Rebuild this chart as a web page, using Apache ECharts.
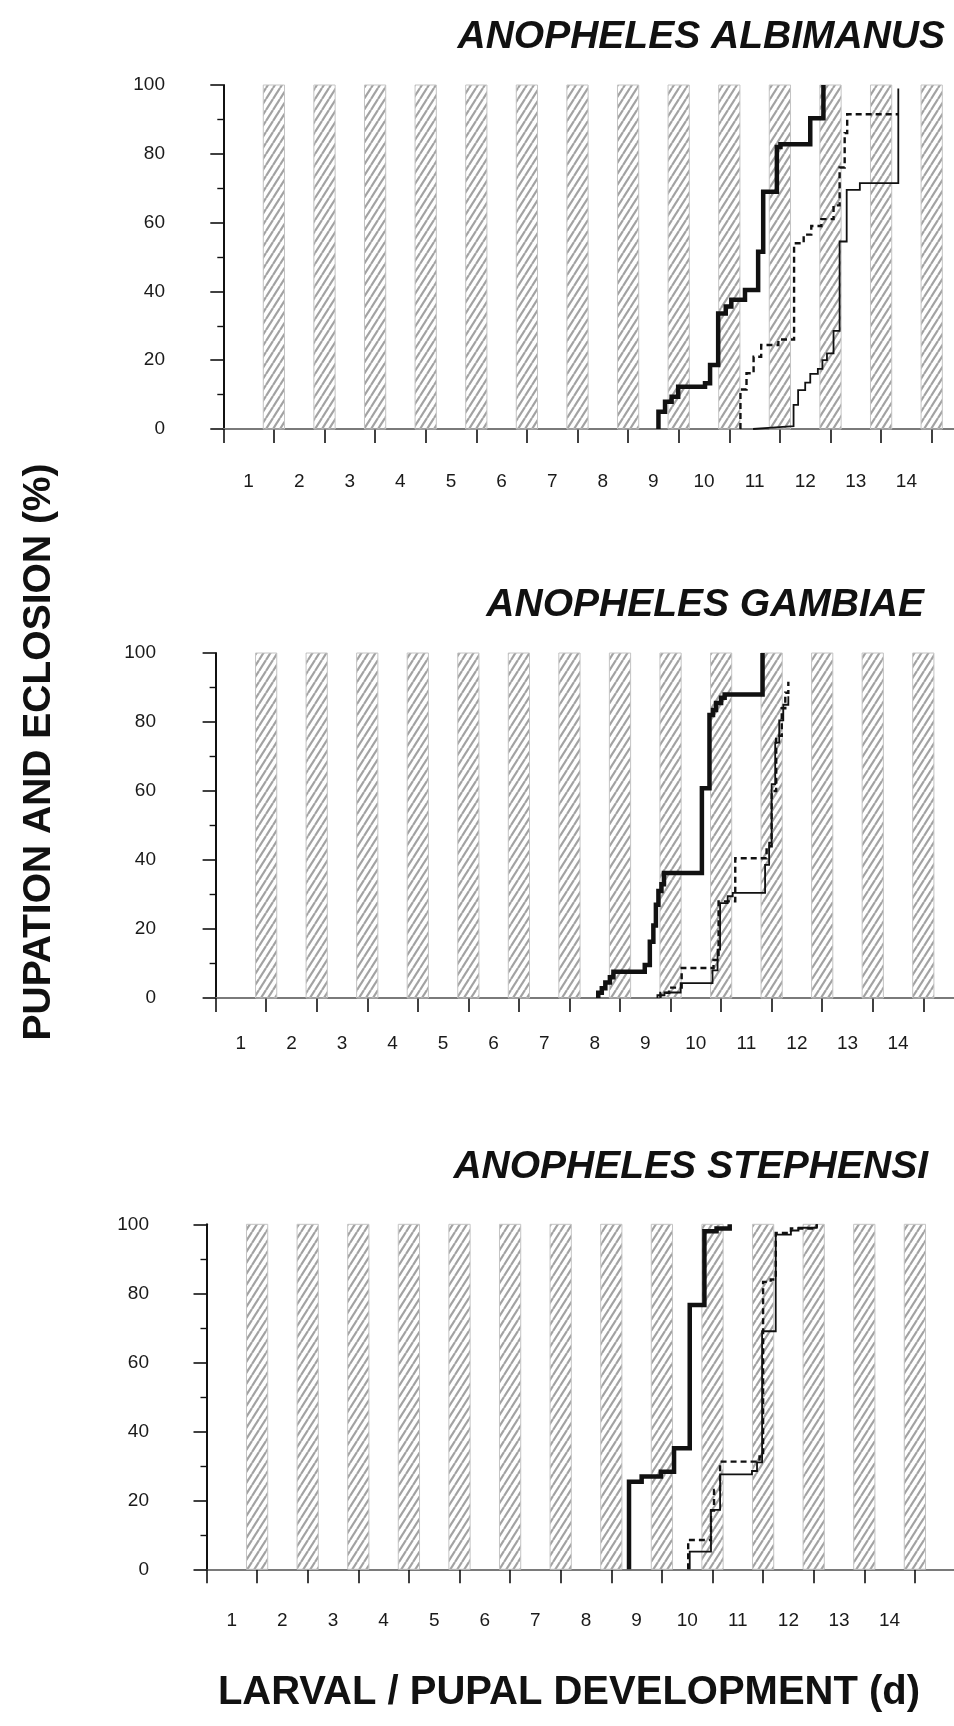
<!DOCTYPE html>
<html><head><meta charset="utf-8">
<script src="https://cdn.jsdelivr.net/npm/echarts@6/dist/echarts.min.js"></script>
<style>html,body{margin:0;padding:0;background:#fff}#c{width:954px;height:1726px}</style>
</head><body><div id="c"></div>
<script>
// ---------- data ----------
const dayLabels = ['1','2','3','4','5','6','7','8','9','10','11','12','13','14'];
const dayTicks = [0,1,2,3,4,5,6,7,8,9,10,11,12,13,14];
const dayLabelPos = [0.5,1.5,2.5,3.5,4.5,5.5,6.5,7.5,8.5,9.5,10.5,11.5,12.5,13.5];
// dark periods (lights off, lights on) in days
const darkPeriods = [[0.79,1.21],[1.79,2.21],[2.79,3.21],[3.79,4.21],[4.79,5.21],[5.79,6.21],[6.79,7.21],
  [7.79,8.21],[8.79,9.21],[9.79,10.21],[10.79,11.21],[11.79,12.21],[12.79,13.21],[13.79,14.21]];
const panelTitles = ['ANOPHELES ALBIMANUS','ANOPHELES GAMBIAE','ANOPHELES STEPHENSI'];

const albimanusThick = [[8.60,0],[8.60,5.0],[8.73,7.9],[8.86,9.4],[8.99,12.3],[9.52,13.3],[9.62,18.6],[9.78,33.6],[9.93,35.6],[10.04,37.6],[10.31,40.4],[10.57,51.5],[10.67,69.0],[10.94,82.0],[11.01,82.8],[11.60,90.3],[11.86,100]];
const albimanusDashed = [[10.22,0],[10.22,11.5],[10.34,16.2],[10.48,21.0],[10.63,24.4],[10.97,26.0],[11.28,54.0],[11.47,56.5],[11.62,59.0],[11.82,61.0],[12.06,65.0],[12.18,76.0],[12.28,86.0],[12.33,91.5],[13.34,91.5]];
const albimanusThin = [[10.47,0],[10.47,0.3],[10.77,0.8],[11.27,7.0],[11.36,11.3],[11.50,13.5],[11.60,16.0],[11.75,17.5],[11.84,20.0],[11.93,22.0],[12.06,28.5],[12.18,54.5],[12.32,69.5],[12.58,71.5],[13.34,99]];

const gambiaeThick = [[7.57,0],[7.57,1.5],[7.64,2.8],[7.71,4.5],[7.80,6.0],[7.87,7.6],[8.49,9.6],[8.59,16.3],[8.66,21.0],[8.71,27.0],[8.76,31.0],[8.82,33.0],[8.87,36.2],[9.62,60.8],[9.77,82.0],[9.84,83.5],[9.90,85.5],[10.00,87.0],[10.07,88.0],[10.82,100]];
const gambiaeDashed = [[8.80,0],[8.80,1.5],[8.97,3.0],[9.22,8.7],[9.85,11.0],[9.95,28.0],[10.28,40.5],[10.90,44.0],[11.00,60.0],[11.09,76.0],[11.20,84.0],[11.27,88.5],[11.33,91.7]];
const gambiaeThin = [[8.74,0],[8.74,0.8],[8.88,1.6],[9.20,4.3],[9.83,8.0],[9.93,14.0],[9.98,27.5],[10.13,29.5],[10.23,30.5],[10.87,38.6],[10.95,45.0],[11.00,62.0],[11.07,74.0],[11.15,80.5],[11.23,85.0],[11.33,87.5]];

const stephensiThick = [[8.35,0],[8.35,25.4],[8.60,26.9],[8.98,28.3],[9.24,35.1],[9.55,76.6],[9.84,98.0],[10.08,98.8],[10.34,100]];
const stephensiDashed = [[9.52,0],[9.52,8.5],[9.97,17.0],[10.03,23.0],[10.15,31.2],[10.93,32.7],[11.00,83.3],[11.15,84.0],[11.25,97.5],[11.55,98.8],[12.06,100]];
const stephensiThin = [[9.55,0],[9.55,5.1],[9.97,17.2],[10.15,27.5],[10.78,28.5],[10.88,31.0],[10.98,69.0],[11.25,97.0],[11.55,98.2],[11.70,99.0],[12.06,100]];

const panelSeries = [
  [albimanusThick, albimanusDashed, albimanusThin],
  [gambiaeThick, gambiaeDashed, gambiaeThin],
  [stephensiThick, stephensiDashed, stephensiThin]
];
const seriesNames = ['Pupation', 'Eclosion (dashed)', 'Eclosion (thin)'];

// ---------- layout ----------
const W = 954;
const layout = [
  {left: 223.3, top: 85, height: 344, axisX: 206, dayW: 50.6, titleRight: 945, titleY: 37.5, labelMargin: 43},
  {left: 215.6, top: 653, height: 345, axisX: 197, dayW: 50.55, titleRight: 924, titleY: 605, labelMargin: 36},
  {left: 206.5, top: 1224.3, height: 345, axisX: 190, dayW: 50.6, titleRight: 928, titleY: 1167, labelMargin: 42}
];

function makeHatch() {
  const w = 7, h = 11;
  const c = document.createElement('canvas');
  c.width = w; c.height = h;
  const g = c.getContext('2d');
  g.strokeStyle = '#a2a2a2';
  g.lineWidth = 2.2;
  for (const dx of [-w, 0, w]) {
    g.beginPath(); g.moveTo(dx, h); g.lineTo(dx + w, 0); g.stroke();
  }
  return c;
}
const hatch = {image: makeHatch(), repeat: 'repeat'};

const font = '"Liberation Sans", Arial, Helvetica, sans-serif';
const grids = [], xAxes = [], yAxes = [], series = [], graphics = [];

layout.forEach((L, i) => {
  const width = W - L.left;
  grids.push({left: L.left, top: L.top, width: width, height: L.height, containLabel: false});
  xAxes.push({
    type: 'value', gridIndex: i, min: 0, max: width / L.dayW,
    axisLine: {show: true, lineStyle: {color: '#7a7a7a', width: 2}},
    axisTick: {show: true, customValues: dayTicks, length: 14, lineStyle: {color: '#111', width: 1.6}},
    axisLabel: {show: true, customValues: dayLabelPos, margin: L.labelMargin, fontSize: 19, color: '#1a1a1a', fontFamily: font,
      formatter: v => dayLabels[Math.round(v - 0.5)]},
    splitLine: {show: false}
  });
  yAxes.push({
    type: 'value', gridIndex: i, min: 0, max: 100, interval: 20, offset: L.left - L.axisX,
    axisLine: {show: true, lineStyle: {color: '#111', width: 2}},
    axisTick: {show: true, length: 13, lineStyle: {color: '#111', width: 1.6}},
    minorTick: {show: true, splitNumber: 2, length: 6, lineStyle: {color: '#111', width: 1.4}},
    axisLabel: {margin: 41, fontSize: 19, color: '#1a1a1a', fontFamily: font},
    splitLine: {show: false}
  });
  series.push({
    type: 'custom', xAxisIndex: i, yAxisIndex: i, silent: true, z: 1,
    data: darkPeriods, encode: {x: [0, 1]},
    renderItem: (params, api) => {
      const p0 = api.coord([api.value(0), 100]);
      const p1 = api.coord([api.value(1), 0]);
      return {type: 'rect', shape: {x: p0[0], y: p0[1], width: p1[0] - p0[0], height: p1[1] - p0[1]},
        style: {fill: hatch, stroke: '#c4c4c4', lineWidth: 1}};
    }
  });
  const styles = [
    {width: 4.5, type: 'solid'},
    {width: 2.4, type: [6, 4]},
    {width: 1.8, type: 'solid'}
  ];
  panelSeries[i].forEach((d, k) => {
    series.push({
      name: seriesNames[k], type: 'line', xAxisIndex: i, yAxisIndex: i, data: d, step: 'end',
      symbol: 'none', z: 3, silent: true, animation: false,
      lineStyle: {color: '#111', width: styles[k].width, type: styles[k].type, cap: 'butt', join: 'miter'}
    });
  });
  graphics.push({type: 'text', x: L.titleRight, y: L.titleY,
    style: {text: panelTitles[i], font: 'italic bold 39px ' + font, fill: '#111',
      align: 'right', verticalAlign: 'middle', textAlign: 'right', textVerticalAlign: 'middle'}});
});

graphics.push({type: 'text', x: 39, y: 752, rotation: Math.PI / 2,
  style: {text: 'PUPATION AND ECLOSION (%)', font: 'bold 39px ' + font, fill: '#111',
    align: 'center', verticalAlign: 'middle', textAlign: 'center', textVerticalAlign: 'middle'}});
graphics.push({type: 'text', x: 569, y: 1693,
  style: {text: 'LARVAL / PUPAL DEVELOPMENT (d)', font: 'bold 40px ' + font, fill: '#111',
    align: 'center', verticalAlign: 'middle', textAlign: 'center', textVerticalAlign: 'middle'}});

const chart = echarts.init(document.getElementById('c'), null, {renderer: 'canvas'});
chart.setOption({
  animation: false,
  backgroundColor: '#fff',
  grid: grids, xAxis: xAxes, yAxis: yAxes, series: series, graphic: graphics
});
</script></body></html>
